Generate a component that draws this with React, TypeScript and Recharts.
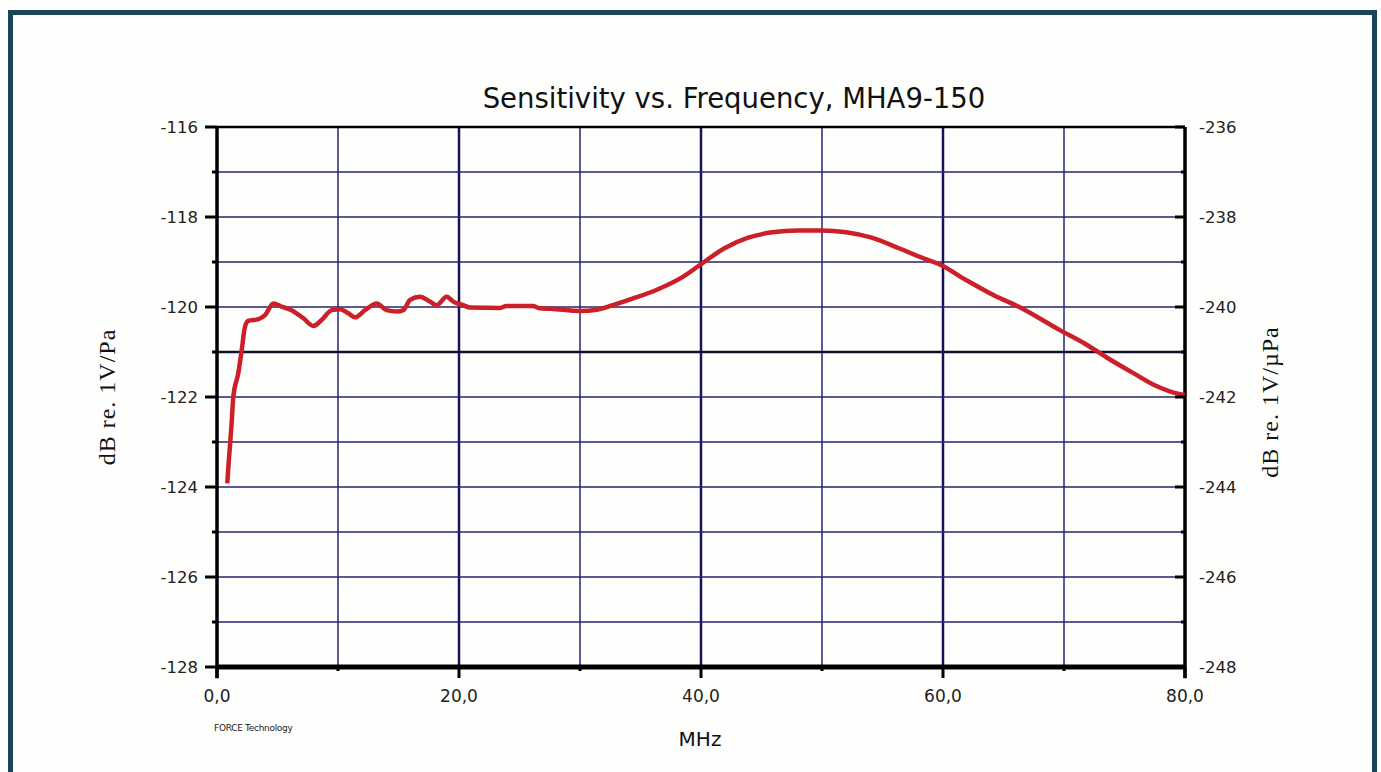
import React from "react";
import { LineChart, Line, XAxis, YAxis, ReferenceLine } from "recharts";

const freqMHz = [
  0.85, 0.94, 1.21, 1.35, 1.76, 2.04, 2.31, 2.59, 3.42, 3.97, 4.66, 5.34, 6.17, 7.14, 7.96, 8.65,
  9.48, 10.17, 10.85, 11.4, 12.23, 13.2, 14.02, 14.85, 15.4, 15.95, 16.78, 17.6, 18.16, 18.98,
  19.53, 20.36, 20.9, 23.4, 23.9, 26.1, 26.7, 27.6, 30.0, 31.4, 32.7, 34.4, 36.4, 38.5, 40.0,
  41.9, 43.9, 45.9, 48.0, 49.9, 52.0, 54.1, 56.4, 58.5, 59.7, 61.9, 64.2, 66.3, 69.7, 71.7,
  73.7, 75.8, 77.5, 79.5, 80.0,
];
const sensitivity = [
  -123.92, -123.55, -122.58, -121.99, -121.47, -120.96, -120.44, -120.31, -120.27, -120.18,
  -119.92, -119.99, -120.07, -120.25, -120.42, -120.29, -120.07, -120.05, -120.14, -120.23,
  -120.07, -119.92, -120.07, -120.1, -120.07, -119.84, -119.77, -119.88, -119.96, -119.77,
  -119.88, -119.96, -120.01, -120.02, -119.98, -119.98, -120.03, -120.04, -120.09, -120.06,
  -119.96, -119.81, -119.61, -119.33, -119.05, -118.7, -118.46, -118.34, -118.3, -118.3,
  -118.34, -118.46, -118.7, -118.93, -119.05, -119.4, -119.74, -120.0, -120.52, -120.81,
  -121.15, -121.48, -121.74, -121.93, -121.95,
];

const xTicks = [0, 10, 20, 30, 40, 50, 60, 70, 80];
const leftTicks = [-128, -127, -126, -125, -124, -123, -122, -121, -120, -119, -118, -117, -116];
const rightTicks = [-248, -247, -246, -245, -244, -243, -242, -241, -240, -239, -238, -237, -236];
const vGrid = [10, 20, 30, 40, 50, 60, 70];
const hGrid = [-127, -126, -125, -124, -123, -122, -121, -120, -119, -118, -117];

const title = "Sensitivity vs. Frequency, MHA9-150";
const xLabel = "MHz";
const yLabelLeft = "dB re. 1V/Pa";
const yLabelRight = "dB re. 1V/\u00B5Pa";
const credit = "FORCE Technology";

const data = freqMHz.map((f, i) => ({ f, v: sensitivity[i] }));

const SANS = "'DejaVu Sans', Verdana, sans-serif";
const SERIF = "'Liberation Serif', 'Times New Roman', serif";

const LeftTick = (props: any) => {
  const { x, y, payload } = props;
  const v = payload.value;
  const major = v % 2 === 0;
  return (
    <g>
      <line x1={x - (major ? 12 : 5)} x2={x} y1={y} y2={y} stroke="#000" strokeWidth={3} />
      {major && (
        <text x={x - 19} y={y} textAnchor="end" dominantBaseline="central" fontSize={16.5} fontFamily={SANS} fill="#222">
          {v}
        </text>
      )}
    </g>
  );
};

const RightTick = (props: any) => {
  const { x, y, payload } = props;
  const v = payload.value;
  const major = v % 2 === 0;
  return (
    <g>
      <line x1={x - (major ? 10 : 4)} x2={x} y1={y} y2={y} stroke="#000" strokeWidth={3} />
      {major && (
        <text x={x + 14} y={y} textAnchor="start" dominantBaseline="central" fontSize={16.5} fontFamily={SANS} fill="#222">
          {v}
        </text>
      )}
    </g>
  );
};

const BottomTick = (props: any) => {
  const { x, y, payload } = props;
  const v = payload.value;
  const major = v % 20 === 0;
  return (
    <g>
      <line x1={x} x2={x} y1={y} y2={y + (major ? 11 : 4)} stroke="#000" strokeWidth={3} />
      {major && (
        <text x={x} y={y + 29} textAnchor="middle" dominantBaseline="central" fontSize={17} fontFamily={SANS} fill="#222">
          {v.toFixed(1).replace(".", ",")}
        </text>
      )}
    </g>
  );
};

export default function App() {
  return (
    <div style={{ position: "absolute", left: 0, top: 0, width: 1381, height: 772, background: "#fefefd", overflow: "hidden" }}>
      <div
        style={{
          position: "absolute",
          left: 8,
          top: 10,
          width: 1359,
          height: 780,
          border: "5px solid #1b4459",
          boxSizing: "content-box",
        }}
      />
      <div style={{ position: "absolute", left: 0, top: 0 }}>
        <LineChart width={1381} height={772} data={data} margin={{ top: 127, right: 136, bottom: 75, left: 157 }}>
          <XAxis
            dataKey="f"
            type="number"
            domain={[0, 80]}
            ticks={xTicks}
            interval={0}
            allowDataOverflow
            axisLine={false}
            tickLine={false}
            tickSize={0}
            tickMargin={0}
            height={30}
            tick={<BottomTick />}
          />
          <YAxis
            yAxisId="l"
            type="number"
            domain={[-128, -116]}
            ticks={leftTicks}
            interval={0}
            allowDataOverflow
            axisLine={false}
            tickLine={false}
            tickSize={0}
            tickMargin={0}
            width={60}
            tick={<LeftTick />}
          />
          <YAxis
            yAxisId="r"
            orientation="right"
            type="number"
            domain={[-248, -236]}
            ticks={rightTicks}
            interval={0}
            allowDataOverflow
            axisLine={false}
            tickLine={false}
            tickSize={0}
            tickMargin={0}
            width={60}
            tick={<RightTick />}
          />
          {vGrid.map((g) => (
            <ReferenceLine
              key={"v" + g}
              yAxisId="l"
              x={g}
              stroke={g % 20 === 0 ? "#14145a" : "#25257a"}
              strokeWidth={g % 20 === 0 ? 2.5 : 1.5}
            />
          ))}
          {hGrid.map((g) => (
            <ReferenceLine
              key={"h" + g}
              yAxisId="l"
              y={g}
              stroke={g === -121 ? "#10102e" : "#25256e"}
              strokeWidth={g === -121 ? 2.5 : 1.5}
            />
          ))}
          <ReferenceLine yAxisId="l" y={-116} stroke="#000" strokeWidth={2.5} />
          <ReferenceLine yAxisId="l" y={-128} stroke="#000" strokeWidth={5} />
          <ReferenceLine
            yAxisId="l"
            ifOverflow="visible"
            segment={[{ x: 0, y: -116 }, { x: 0, y: -128.25 }]}
            stroke="#000"
            strokeWidth={3.5}
          />
          <ReferenceLine
            yAxisId="l"
            ifOverflow="visible"
            segment={[{ x: 80, y: -116 }, { x: 80, y: -128.25 }]}
            stroke="#000"
            strokeWidth={3.5}
          />
          <Line
            yAxisId="l"
            dataKey="v"
            type="monotone"
            stroke="#cc1f2a"
            strokeWidth={4.5}
            dot={false}
            isAnimationActive={false}
          />
        </LineChart>
      </div>
      <div style={{ position: "absolute", left: 384, top: 80, width: 700, textAlign: "center", fontFamily: SANS, fontSize: 27.5, color: "#111", lineHeight: "36px", whiteSpace: "nowrap" }}>
        {title}
      </div>
      <div style={{ position: "absolute", left: 600, top: 726, width: 200, textAlign: "center", fontFamily: SANS, fontSize: 20, color: "#111", lineHeight: "26px" }}>
        {xLabel}
      </div>
      <div style={{ position: "absolute", left: 214, top: 722, fontFamily: SANS, fontSize: 9, color: "#222", lineHeight: "12px", whiteSpace: "nowrap", letterSpacing: -0.3 }}>
        {credit}
      </div>
      <div style={{ position: "absolute", left: 107, top: 397, width: 0, height: 0 }}>
        <div style={{ position: "absolute", left: -150, top: -16, width: 300, textAlign: "center", transform: "rotate(-90deg)", fontFamily: SERIF, fontSize: 24, color: "#111", lineHeight: "32px", whiteSpace: "nowrap", letterSpacing: 1 }}>
          {yLabelLeft}
        </div>
      </div>
      <div style={{ position: "absolute", left: 1270, top: 402, width: 0, height: 0 }}>
        <div style={{ position: "absolute", left: -150, top: -16, width: 300, textAlign: "center", transform: "rotate(-90deg)", fontFamily: SERIF, fontSize: 24, color: "#111", lineHeight: "32px", whiteSpace: "nowrap", letterSpacing: 1 }}>
          {yLabelRight}
        </div>
      </div>
    </div>
  );
}
